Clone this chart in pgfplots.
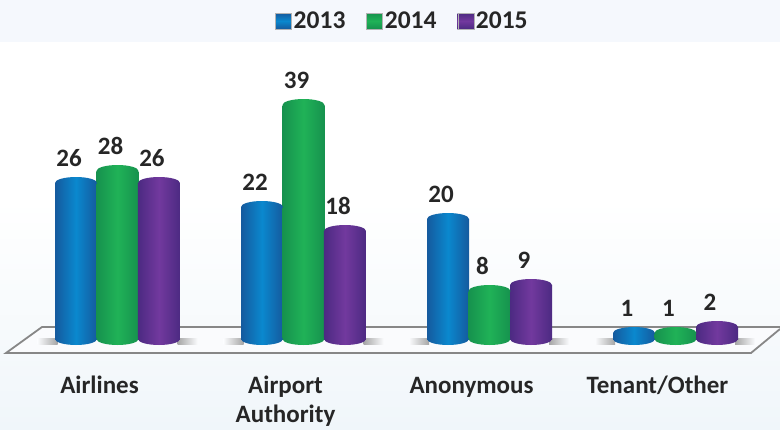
\documentclass[border=0pt]{standalone}
\usepackage{fontspec}
\setmainfont{Carlito}
\usepackage{pgfplots}
\pgfplotsset{compat=1.18}
\usepackage{pgfplotstable}
\definecolor{bluedark}{HTML}{155A9E}
\definecolor{bluemid}{HTML}{0A88CE}
\definecolor{greendark}{HTML}{16924E}
\definecolor{greenmid}{HTML}{20B257}
\definecolor{purpledark}{HTML}{4C2A82}
\definecolor{purplemid}{HTML}{72399E}
\definecolor{labelcol}{HTML}{262626}
\pgfplotstableread{
x y
-0.2231 26
0.7769 22
1.7769 20
2.7769 1
}\tabA
\pgfplotstableread{
x y
0 28
1 39
2 8
3 1
}\tabB
\pgfplotstableread{
x y
0.2231 26
1.2231 18
2.2231 9
3.2231 2
}\tabC
\pgfdeclareplotmark{capblue}{\path[draw=none,shade,left color=bluedark,right color=bluedark,middle color=bluemid] (0pt,0pt) ellipse [x radius=21pt,y radius=6pt];}
\pgfdeclareplotmark{capgreen}{\path[draw=none,shade,left color=greendark,right color=greendark,middle color=greenmid] (0pt,0pt) ellipse [x radius=21pt,y radius=6pt];}
\pgfdeclareplotmark{cappurple}{\path[draw=none,shade,left color=purpledark,right color=purpledark,middle color=purplemid] (0pt,0pt) ellipse [x radius=21pt,y radius=6pt];}
\pgfplotsset{
  cylblue/.style={left color=bluedark,right color=bluedark,middle color=bluemid,draw=none},
  cylgreen/.style={left color=greendark,right color=greendark,middle color=greenmid,draw=none},
  cylpurple/.style={left color=purpledark,right color=purpledark,middle color=purplemid,draw=none},
  cyl/.style={ybar,bar width=42pt,bar shift=0pt,area legend},
  cap/.style={only marks,forget plot,mark size=1pt,draw=none,
    nodes near coords,
    nodes near coords style={font=\fontsize{25}{25}\selectfont\bfseries,text=labelcol,anchor=center,xshift=-7pt,yshift=25pt}},
  base/.style={only marks,forget plot,mark size=1pt,draw=none},
}
\begin{document}
\begin{tikzpicture}
\useasboundingbox (0pt,-56pt) rectangle (780pt,373pt);
\begin{scope}[x=1pt,y=-1pt,shift={(0pt,373pt)}]
  \fill[white] (0,0) rectangle (780,429);
  \fill[color={rgb,255:red,245;green,248;blue,253}] (0,0) rectangle (780,42);
  \shade[top color=white,bottom color={rgb,255:red,240;green,246;blue,250}] (0,200) rectangle (780,429);
  \fill[color={rgb,255:red,250;green,251;blue,253}] (6,353) -- (42,327) -- (780,327) -- (751,353) -- cycle;
  \draw[line width=1.8pt,color={rgb,255:red,135;green,135;blue,135},line join=miter] (780,327) -- (42,327) -- (6,353) -- (751,353) -- (780,329);
  \foreach \c in {117.5,303.5,489,675}{
    \shade[left color={rgb,255:red,250;green,251;blue,253},right color={rgb,255:red,165;green,165;blue,165}] (\c-80,338) rectangle (\c-60,344);
    \shade[right color={rgb,255:red,250;green,251;blue,253},left color={rgb,255:red,165;green,165;blue,165}] (\c+60,338) rectangle (\c+80,344);
  }
\end{scope}
\begin{axis}[
  at={(0pt,0pt)},anchor=south west,
  scale only axis,width=780pt,height=373pt,
  xmin=-0.6317,xmax=3.5618,ymin=-5.667,ymax=56.5,
  clip=false,
  axis y line=none,axis x line=bottom,
  x axis line style={draw=none,-},
  major tick length=0pt,
  ytick=\empty,
  xtick={0,1,2,3},
  xticklabels={\strut Airlines,{\strut Airport\\\strut Authority},\strut Anonymous,\strut Tenant/Other},
  x tick label style={font=\fontsize{25}{29}\selectfont\bfseries,text=labelcol,align=center,anchor=north,xshift=-18pt,yshift=3.3pt},
  /pgf/number format/assume math mode=true,
  legend columns=3,
  legend style={at={(0.516,0.9437)},anchor=center,draw=none,fill=none,
    font=\fontsize{25.5}{25.5}\selectfont\bfseries,text=labelcol,
    /tikz/every even column/.append style={column sep=19pt},
    inner sep=0pt,nodes={inner sep=2pt}},
]
% base discs
\addplot[base,mark=capblue] table[x=x,y expr=0] {\tabA};
% 2013 cylinders
\addplot[cyl,cylblue,legend image code/.code={\shade[top color=bluedark,bottom color=bluedark,middle color=bluemid,draw=gray!60] (-2pt,-8pt) rectangle (14pt,8pt);}] coordinates {(-0.2231,26)};
\addlegendentry{2013}
\addplot[cyl,cylblue,forget plot] coordinates {(0.7769,22)};
\addplot[cyl,cylblue,forget plot] coordinates {(1.7769,20)};
\addplot[cyl,cylblue,forget plot] coordinates {(2.7769,1)};
\addplot[cap,mark=capblue] table[x=x,y=y] {\tabA};
% 2014 cylinders
\addplot[base,mark=capgreen] table[x=x,y expr=0] {\tabB};
\addplot[cyl,cylgreen,legend image code/.code={\shade[top color=greendark,bottom color=greendark,middle color=greenmid,draw=gray!60] (-2pt,-8pt) rectangle (14pt,8pt);}] coordinates {(0,28)};
\addlegendentry{2014}
\addplot[cyl,cylgreen,forget plot] coordinates {(1,39)};
\addplot[cyl,cylgreen,forget plot] coordinates {(2,8)};
\addplot[cyl,cylgreen,forget plot] coordinates {(3,1)};
\addplot[cap,mark=capgreen] table[x=x,y=y] {\tabB};
% 2015 cylinders
\addplot[base,mark=cappurple] table[x=x,y expr=0] {\tabC};
\addplot[cyl,cylpurple,legend image code/.code={\shade[top color=purpledark,bottom color=purpledark,middle color=purplemid,draw=gray!60] (-2pt,-8pt) rectangle (14pt,8pt);}] coordinates {(0.2231,26)};
\addlegendentry{2015}
\addplot[cyl,cylpurple,forget plot] coordinates {(1.2231,18)};
\addplot[cyl,cylpurple,forget plot] coordinates {(2.2231,9)};
\addplot[cyl,cylpurple,forget plot] coordinates {(3.2231,2)};
\addplot[cap,mark=cappurple] table[x=x,y=y] {\tabC};
\end{axis}
\end{tikzpicture}
\end{document}
